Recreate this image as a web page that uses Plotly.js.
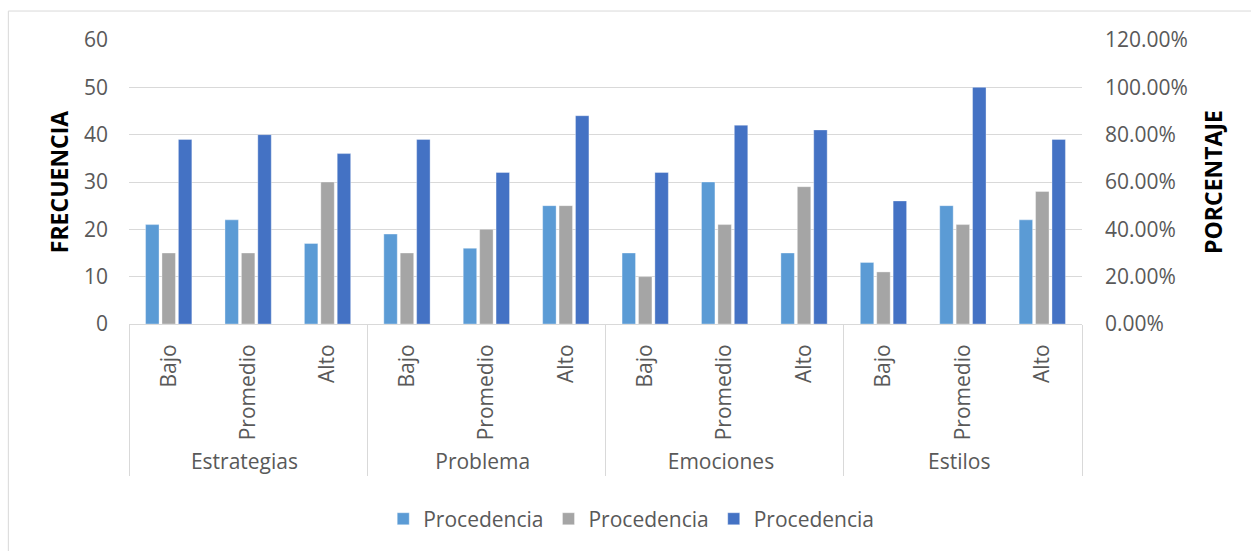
<!DOCTYPE html>
<html>
<head>
<meta charset="utf-8">
<script src="https://cdn.plot.ly/plotly-3.0.1.min.js"></script>
<style>html,body{margin:0;padding:0;background:#fff;}#chart{width:1251px;height:551px;}</style>
</head>
<body>
<div id="chart"></div>
<script>
const groups = ["Estrategias","Estrategias","Estrategias","Problema","Problema","Problema","Emociones","Emociones","Emociones","Estilos","Estilos","Estilos"];
const levels = ["Bajo","Promedio","Alto","Bajo","Promedio","Alto","Bajo","Promedio","Alto","Bajo","Promedio","Alto"];
const seriesNames = ["Procedencia","Procedencia","Procedencia"];
const series1 = [21,22,17,19,16,25,15,30,15,13,25,22];
const series2 = [15,15,30,15,20,25,10,21,29,11,21,28];
const series3 = [39,40,36,39,32,44,32,42,41,26,50,39];
const colors = ["#5b9bd5","#a5a5a5","#4472c4"];
const leftTicks = [0,10,20,30,40,50,60];
const rightTicks = [0,0.2,0.4,0.6,0.8,1.0,1.2];

const F = "'Open Sans', 'Noto Sans', sans-serif";
const allSeries = [series1, series2, series3];
const traces = allSeries.map((vals, i) => ({
  type: 'bar',
  name: seriesNames[i],
  x: [groups, levels],
  y: vals,
  marker: {color: colors[i], line: {color: 'rgba(255,255,255,0.35)', width: 1}},
  hoverinfo: 'skip'
}));
// empty trace so the secondary (percentage) axis is drawn
traces.push({
  type: 'scatter', mode: 'markers',
  x: [groups, levels], y: levels.map(() => null),
  yaxis: 'y2', showlegend: false, hoverinfo: 'skip'
});

const layout = {
  width: 1251, height: 551,
  margin: {l: 129, r: 169, t: 40, b: 227},
  paper_bgcolor: '#fff', plot_bgcolor: '#fff',
  font: {family: F, size: 21, color: '#595959'},
  barmode: 'group',
  bargap: 0.38,
  bargroupgap: 0.18,
  showlegend: true,
  legend: {orientation: 'h', x: 0.527, xanchor: 'center', y: -0.687, yanchor: 'middle',
           font: {family: F, size: 21, color: '#595959'}, itemwidth: 30, traceorder: 'normal'},
  xaxis: {
    type: 'multicategory',
    range: [-0.5, levels.length - 0.5],
    tickangle: -90,
    showline: true, linecolor: '#d9d9d9', linewidth: 1,
    showgrid: false, ticks: '',
    ticklabelstandoff: 11,
    showdividers: true, dividercolor: '#d9d9d9', dividerwidth: 1,
    tickfont: {family: F, size: 21, color: '#595959'},
    fixedrange: true
  },
  yaxis: {
    range: [0, 60], tickvals: leftTicks, ticktext: leftTicks.map(String),
    showgrid: true, gridcolor: '#d9d9d9', gridwidth: 1,
    zeroline: false, showline: false, ticks: '',
    ticklabelstandoff: 20,
    tickfont: {family: F, size: 21, color: '#595959'},
    title: {text: 'FRECUENCIA', font: {family: F, size: 23, color: '#000', weight: 'bold'}, standoff: 8},
    fixedrange: true
  },
  yaxis2: {
    overlaying: 'y', side: 'right', anchor: 'x',
    range: [0, 1.2], tickvals: rightTicks, tickformat: '.2%',
    showgrid: false, zeroline: false, showline: false, ticks: '',
    ticklabelstandoff: 22,
    tickfont: {family: F, size: 21, color: '#595959'},
    title: {text: 'PORCENTAJE', font: {family: F, size: 23, color: '#000', weight: 'bold'}, standoff: 18},
    fixedrange: true
  },
  shapes: [{
    type: 'rect', xref: 'paper', yref: 'paper',
    x0: -0.1266, x1: 1.3, y0: -1.2, y1: 1.102,
    line: {color: '#d9d9d9', width: 1}, fillcolor: 'rgba(0,0,0,0)', layer: 'below'
  }]
};

Plotly.newPlot('chart', traces, layout, {displayModeBar: false, staticPlot: true});
</script>
</body>
</html>
